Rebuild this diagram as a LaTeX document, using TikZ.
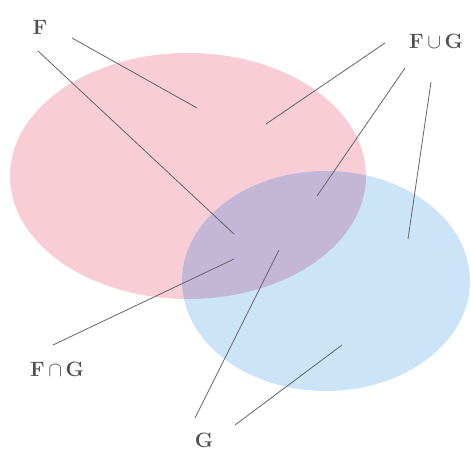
\documentclass[tikz,border=0pt]{standalone}
\usepackage{amsmath, amssymb}
\usepackage{xcolor}
\usepackage{tikz}
\usetikzlibrary{calc}

\definecolor{setpink}{RGB}{248,205,214}
\definecolor{setblue}{RGB}{204,228,248}
\definecolor{setboth}{RGB}{196,182,214}
\definecolor{labelgray}{RGB}{80,80,80}
\definecolor{linegray}{RGB}{100,100,108}

\begin{document}
\begin{tikzpicture}[
    x=1pt, y=-1pt,
    every node/.style={font=\fontsize{22}{26}\selectfont, text=labelgray, inner sep=0pt},
    setlabel/.style={anchor=center},
    pointer/.style={draw=linegray, line width=0.8pt}
]
\useasboundingbox (0,0) rectangle (471,454);

% Sets F and G
\fill [setpink] (188,176) ellipse [x radius=178, y radius=123];
\fill [setblue] (326,281) ellipse [x radius=144, y radius=110];
\begin{scope}
    \clip (188,176) ellipse [x radius=178, y radius=123];
    \fill [setboth] (326,281) ellipse [x radius=144, y radius=110];
\end{scope}

% Labels
\node (F) [setlabel] at (40,27) {$\mathbf{F}$};
\node (FuG) [setlabel] at (436,41) {$\mathbf{F}\,{\cup}\,\mathbf{G}$};
\node (FnG) [setlabel] at (57,369) {$\mathbf{F}\,{\cap}\,\mathbf{G}$};
\node (G) [setlabel] at (204,440) {$\mathbf{G}$};

% Pointer ends
\coordinate (f1s) at (72,38);   \coordinate (f1e) at (197,108);
\coordinate (f2s) at (38,51);   \coordinate (f2e) at (234,234);
\coordinate (u1s) at (385,43);  \coordinate (u1e) at (266,124);
\coordinate (u2s) at (405,68);  \coordinate (u2e) at (317,196);
\coordinate (u3s) at (431,82);  \coordinate (u3e) at (408,239);
\coordinate (n1s) at (53,345);  \coordinate (n1e) at (234,259);
\coordinate (g1s) at (195,418); \coordinate (g1e) at (279,250);
\coordinate (g2s) at (235,425); \coordinate (g2e) at (342,345);

% Pointers
\draw [pointer] (f1s) -- (f1e);
\draw [pointer] (f2s) -- (f2e);
\draw [pointer] (u1s) -- (u1e);
\draw [pointer] (u2s) -- (u2e);
\draw [pointer] (u3s) -- (u3e);
\draw [pointer] (n1s) -- (n1e);
\draw [pointer] (g1s) -- (g1e);
\draw [pointer] (g2s) -- (g2e);

\end{tikzpicture}
\end{document}
